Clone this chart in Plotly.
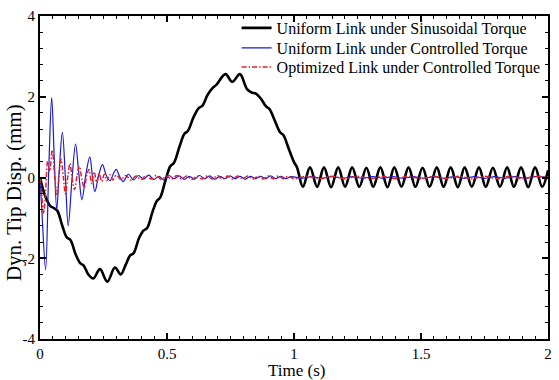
import plotly.graph_objects as go

# ---------------- data ----------------
x_tick_vals = [0, 0.5, 1, 1.5, 2]
x_tick_text = ["0", "0.5", "1", "1.5", "2"]
y_tick_vals = [-4, -2, 0, 2, 4]
y_tick_text = ["-4", "-2", "0", "2", "4"]

series_names = [
    "Uniform Link under Sinusoidal Torque",
    "Uniform Link under Controlled Torque",
    "Optimized Link under Controlled Torque",
]

# black: uniform link, sinusoidal torque
sin_t = [0.000, 0.020, 0.040, 0.055, 0.068, 0.088, 0.105, 0.120, 0.140, 0.158,
         0.172, 0.190, 0.210, 0.236, 0.265, 0.295, 0.318, 0.338, 0.355, 0.368,
         0.390, 0.408, 0.422, 0.443, 0.460, 0.473, 0.495, 0.513, 0.527, 0.550,
         0.568, 0.582, 0.605, 0.625, 0.640, 0.660, 0.680, 0.695, 0.730, 0.757,
         0.787, 0.815, 0.835, 0.850, 0.870, 0.890, 0.903, 0.925, 0.945, 0.958,
         0.980, 1.000, 1.012, 1.035, 1.063, 1.091, 1.118, 1.146, 1.174, 1.201,
         1.229, 1.257, 1.285, 1.312, 1.340, 1.368, 1.395, 1.423, 1.451, 1.478,
         1.506, 1.534, 1.562, 1.589, 1.617, 1.645, 1.672, 1.700, 1.728, 1.755,
         1.783, 1.811, 1.839, 1.866, 1.894, 1.922, 1.949, 1.977, 2.000]
sin_y = [0.00, -0.45, -0.70, -0.76, -0.82, -1.20, -1.48, -1.55, -1.90, -2.12,
         -2.18, -2.40, -2.50, -2.27, -2.58, -2.23, -2.40, -2.15, -1.93, -1.88,
         -1.50, -1.31, -1.25, -0.85, -0.58, -0.50, -0.05, 0.28, 0.36, 0.78,
         1.08, 1.15, 1.50, 1.72, 1.78, 2.05, 2.22, 2.30, 2.56, 2.37,
         2.56, 2.19, 2.10, 2.08, 1.95, 1.76, 1.70, 1.40, 1.12, 1.05,
         0.70, 0.38, 0.25, -0.23, 0.25, -0.23, 0.25, -0.24, 0.25, -0.23,
         0.25, -0.23, 0.24, -0.23, 0.25, -0.24, 0.25, -0.23, 0.25, -0.23,
         0.24, -0.23, 0.25, -0.23, 0.25, -0.24, 0.25, -0.23, 0.25, -0.23,
         0.24, -0.23, 0.25, -0.23, 0.25, -0.24, 0.25, -0.23, 0.18]

# blue: uniform link, controlled torque
uni_t = [0.000, 0.008, 0.022, 0.034, 0.046, 0.056, 0.066, 0.076, 0.088, 0.100,
         0.111, 0.126, 0.140, 0.152, 0.165, 0.180, 0.196, 0.206, 0.216, 0.231,
         0.246, 0.261, 0.276, 0.288, 0.300, 0.314, 0.328, 0.348, 0.368, 0.388,
         0.408, 0.428, 0.448, 0.468, 0.488, 0.508, 0.528, 0.548, 0.568, 0.588,
         0.608, 0.628, 0.648, 0.668, 0.688, 0.708, 0.728, 0.748, 0.768, 0.788,
         0.808, 0.828, 0.848, 0.868, 0.888, 0.908, 0.928, 0.948, 0.968, 0.988,
         1.030, 1.070, 1.110, 1.150, 1.190, 1.230, 1.270, 1.310, 1.350, 1.390,
         1.430, 1.470, 1.510, 1.550, 1.590, 1.630, 1.670, 1.710, 1.750, 1.790,
         1.830, 1.870, 1.910, 1.950, 2.000]
uni_y = [0.00, -0.90, -2.28, 0.10, 1.98, 0.50, -0.80, 0.20, 1.12, 0.00,
         -1.20, -0.05, 0.83, 0.15, -0.55, 0.05, 0.51, 0.05, -0.35, 0.05,
         0.32, 0.05, -0.08, 0.08, 0.20, 0.02, -0.10, 0.08, -0.06, 0.05,
         -0.04, 0.06, -0.05, 0.03, -0.06, 0.05, -0.03, 0.04, -0.05, 0.03,
         -0.04, 0.05, -0.03, 0.04, -0.04, 0.03, -0.03, 0.04, -0.03, 0.03,
         -0.04, 0.03, -0.03, 0.03, -0.03, 0.04, -0.03, 0.03, -0.03, 0.02,
         -0.02, 0.02, -0.02, 0.02, -0.02, 0.02, -0.02, 0.02, -0.02, 0.02,
         -0.02, 0.02, -0.02, 0.02, -0.02, 0.02, -0.02, 0.02, -0.02, 0.02,
         -0.02, 0.02, -0.02, 0.02, 0.00]

# red: optimized link, controlled torque
opt_t = [0.000, 0.006, 0.014, 0.022, 0.030, 0.038, 0.048, 0.057, 0.066, 0.075,
         0.083, 0.092, 0.100, 0.110, 0.118, 0.127, 0.136, 0.146, 0.155, 0.165,
         0.174, 0.184, 0.193, 0.203, 0.213, 0.223, 0.233, 0.243, 0.253, 0.263,
         0.275, 0.287, 0.300, 0.318, 0.338, 0.358, 0.378, 0.398, 0.418, 0.438,
         0.458, 0.478, 0.498, 0.518, 0.538, 0.558, 0.578, 0.598, 0.618, 0.638,
         0.658, 0.678, 0.698, 0.718, 0.738, 0.758, 0.778, 0.798, 0.818, 0.838,
         0.858, 0.878, 0.898, 0.918, 0.938, 0.958, 0.978, 1.000, 1.050, 1.100,
         1.150, 1.200, 1.250, 1.300, 1.350, 1.400, 1.450, 1.500, 1.550, 1.600,
         1.650, 1.700, 1.750, 1.800, 1.850, 1.900, 1.950, 2.000]
opt_y = [0.00, -0.35, -0.90, -0.35, 0.40, 0.15, 0.68, 0.10, -0.45, 0.05,
         0.45, 0.00, -0.40, 0.05, 0.35, -0.05, -0.30, 0.05, 0.28, -0.05,
         -0.25, 0.05, 0.20, -0.15, 0.14, -0.12, 0.10, -0.10, 0.08, -0.08,
         0.07, -0.06, 0.06, -0.05, 0.05, -0.06, 0.04, -0.05, 0.05, -0.04,
         0.05, -0.05, 0.04, -0.04, 0.05, -0.04, 0.04, -0.05, 0.04, -0.04,
         0.04, -0.04, 0.05, -0.04, 0.04, -0.04, 0.04, -0.03, 0.04, -0.04,
         0.03, -0.04, 0.04, -0.03, 0.04, -0.03, 0.03, -0.03, 0.03, -0.03,
         0.03, -0.03, 0.03, -0.03, 0.03, -0.03, 0.03, -0.03, 0.03, -0.03,
         0.03, -0.03, 0.03, -0.03, 0.03, -0.03, 0.03, 0.00]

# ---------------- figure ----------------
FONT = "Liberation Serif"

fig = go.Figure()
fig.add_trace(go.Scatter(x=sin_t, y=sin_y, mode="lines", name=series_names[0],
                         legend="legend",
                         line=dict(color="black", width=2.6, shape="spline", smoothing=1.0)))
fig.add_trace(go.Scatter(x=uni_t, y=uni_y, mode="lines", name=series_names[1],
                         legend="legend2",
                         line=dict(color="#1a1ad6", width=1.2, shape="spline", smoothing=1.0)))
fig.add_trace(go.Scatter(x=opt_t, y=opt_y, mode="lines", name=series_names[2],
                         legend="legend3",
                         line=dict(color="#e0202a", width=1.5, dash="5px,2px,1.5px,2px",
                                   shape="spline", smoothing=1.0)))

axis_common = dict(
    showline=True, linecolor="black", linewidth=2, mirror="ticks",
    ticks="inside", ticklen=6, tickwidth=1.5, tickcolor="black",
    showgrid=False, zeroline=False, automargin=False,
    tickfont=dict(family=FONT, size=15, color="black"),
)

legend_common = dict(
    x=0.387, xanchor="left", yanchor="middle",
    bgcolor="rgba(0,0,0,0)", borderwidth=0,
    font=dict(family=FONT, size=16, color="black"),
    itemwidth=30,
)

fig.update_layout(
    width=559, height=380,
    margin=dict(l=40, r=11, t=16, b=41),
    paper_bgcolor="white", plot_bgcolor="white",
    font=dict(family=FONT, color="black"),
    showlegend=True,
    legend=dict(y=0.963, **legend_common),
    legend2=dict(y=0.901, **legend_common),
    legend3=dict(y=0.842, **legend_common),
    xaxis=dict(
        range=[0, 2], tickvals=x_tick_vals, ticktext=x_tick_text,
        minor=dict(dtick=0.05, ticks="inside", ticklen=3, tickwidth=1.2, tickcolor="black"),
        **axis_common,
    ),
    yaxis=dict(
        range=[-4, 4], tickvals=y_tick_vals, ticktext=y_tick_text,
        minor=dict(dtick=0.4, ticks="inside", ticklen=3, tickwidth=1.2, tickcolor="black"),
        **axis_common,
    ),
    annotations=[
        dict(text="Time (s)", xref="paper", yref="paper", x=0.504, y=-0.099,
             xanchor="center", yanchor="middle", showarrow=False,
             font=dict(family=FONT, size=17, color="black")),
        dict(text="Dyn. Tip Disp. (mm)", xref="paper", yref="paper", x=-0.051, y=0.452,
             xanchor="center", yanchor="middle", textangle=-90, showarrow=False,
             font=dict(family=FONT, size=21, color="black")),
    ],
)

fig.write_html("out.html", config={"displayModeBar": False},
               post_script="document.body.style.margin='0';")
